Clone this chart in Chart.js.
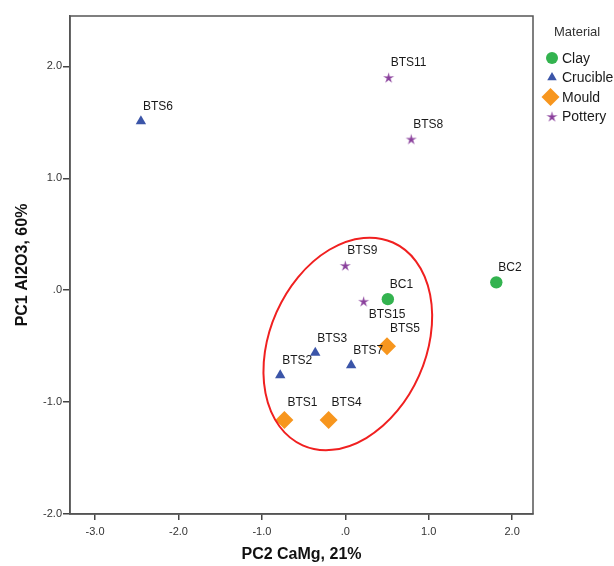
<!DOCTYPE html>
<html>
<head>
<meta charset="utf-8">
<script src="https://cdn.jsdelivr.net/npm/chart.js@4.4.1/dist/chart.umd.min.js"></script>
<style>
  body { margin: 0; background: #fff; }
  #wrap { width: 614px; height: 566px; }
</style>
</head>
<body>
<div id="wrap"><canvas id="myChart" width="614" height="566"></canvas></div>
<script>
// scores (PC2 on x, PC1 on y)
var clayNames = ['BC1', 'BC2'];
var clayX = [0.51, 1.81];
var clayY = [-0.08, 0.07];

var crucibleNames = ['BTS2', 'BTS3', 'BTS6', 'BTS7'];
var crucibleX = [-0.78, -0.36, -2.45, 0.07];
var crucibleY = [-0.76, -0.56, 1.51, -0.67];

var mouldNames = ['BTS1', 'BTS4', 'BTS5'];
var mouldX = [-0.73, -0.20, 0.50];
var mouldY = [-1.16, -1.16, -0.50];

var potteryNames = ['BTS8', 'BTS9', 'BTS11', 'BTS15'];
var potteryX = [0.79, 0.00, 0.52, 0.22];
var potteryY = [1.35, 0.22, 1.90, -0.10];

var xTicks = [-3, -2, -1, 0, 1, 2];
var xTickLabels = ['-3.0', '-2.0', '-1.0', '.0', '1.0', '2.0'];
var yTicks = [-2, -1, 0, 1, 2];
var yTickLabels = ['-2.0', '-1.0', '.0', '1.0', '2.0'];

var labelsBelow = ['BTS15'];

var FONT = "Arial, 'Liberation Sans', sans-serif";

function pts(xs, ys) {
  var out = [];
  for (var i = 0; i < xs.length; ++i) out.push({ x: xs[i], y: ys[i] });
  return out;
}

// thin filled 5 point star for the pottery points
function makeStar(color) {
  var c = document.createElement('canvas');
  c.width = 13; c.height = 13;
  var g = c.getContext('2d');
  g.fillStyle = color;
  g.beginPath();
  for (var i = 0; i < 10; ++i) {
    var r = (i % 2 == 0) ? 5.8 : 1.9;
    var a = -Math.PI / 2 + i * Math.PI / 5;
    var px = 6.5 + r * Math.cos(a), py = 7 + r * Math.sin(a);
    if (i == 0) g.moveTo(px, py); else g.lineTo(px, py);
  }
  g.closePath();
  g.fill();
  return c;
}
var starImg = makeStar('#8a409c');

var datasets = [
  { label: 'Clay', names: clayNames, data: pts(clayX, clayY), pointStyle: 'circle',
    backgroundColor: '#33b34f', borderColor: '#33b34f', pointRadius: 6.2, borderWidth: 0 },
  { label: 'Crucible', names: crucibleNames, data: pts(crucibleX, crucibleY), pointStyle: 'triangle',
    backgroundColor: '#3b55a8', borderColor: '#3b55a8', pointRadius: 6, borderWidth: 0 },
  { label: 'Mould', names: mouldNames, data: pts(mouldX, mouldY), pointStyle: 'rectRot',
    backgroundColor: '#f7961e', borderColor: '#f7961e', pointRadius: 9, borderWidth: 0 },
  { label: 'Pottery', names: potteryNames, data: pts(potteryX, potteryY), pointStyle: starImg,
    backgroundColor: '#8a409c', borderColor: '#8a409c', pointRadius: 6, borderWidth: 0 }
];

// frame, red ellipse, point names and the legend
var extras = {
  id: 'extras',
  afterDatasetsDraw: function (chart) {
    var ctx = chart.ctx;
    var area = chart.chartArea;
    var xs = chart.scales.x, ys = chart.scales.y;

    ctx.save();
    ctx.strokeStyle = '#555';
    ctx.lineWidth = 1.5;
    ctx.strokeRect(area.left, area.top, area.right - area.left, area.bottom - area.top);

    // ellipse around the main group
    ctx.strokeStyle = '#f02020';
    ctx.lineWidth = 2;
    ctx.beginPath();
    ctx.ellipse(xs.getPixelForValue(0.03), ys.getPixelForValue(-0.48), 78, 111, 24 * Math.PI / 180, 0, 2 * Math.PI);
    ctx.stroke();

    ctx.font = '12px ' + FONT;
    ctx.fillStyle = '#1a1a1a';
    ctx.textAlign = 'left';
    ctx.textBaseline = 'middle';
    chart.data.datasets.forEach(function (ds, di) {
      var meta = chart.getDatasetMeta(di);
      meta.data.forEach(function (el, i) {
        var name = ds.names[i];
        var r = ds.pointRadius;
        if (labelsBelow.indexOf(name) >= 0) {
          ctx.fillText(name, el.x + 5, el.y + 13);
        } else {
          ctx.fillText(name, el.x + (r > 8 ? 3 : 2), el.y - r - 8.5);
        }
      });
    });

    // legend
    var lx = area.right + 19;
    ctx.fillStyle = '#333';
    ctx.font = '13px ' + FONT;
    ctx.fillText('Material', lx + 2, 32);
    ctx.font = '14px ' + FONT;
    var radii = [6, 5.5, 9, 6.5];
    chart.data.datasets.forEach(function (ds, di) {
      var y = 58 + di * 19.5;
      ctx.fillStyle = ds.backgroundColor;
      ctx.strokeStyle = ds.backgroundColor;
      Chart.helpers.drawPoint(ctx, {
        pointStyle: ds.pointStyle, radius: radii[di], rotation: 0, borderWidth: 0
      }, di == 2 ? lx - 1.5 : lx, y);
      ctx.fillStyle = '#1a1a1a';
      ctx.fillText(ds.label, lx + 10, y + 1);
    });
    ctx.restore();
  }
};

var ctx = document.getElementById('myChart');
var myChart = new Chart(ctx, {
  type: 'scatter',
  data: { datasets: datasets },
  plugins: [extras],
  options: {
    responsive: false,
    animation: false,
    devicePixelRatio: 1,
    layout: { padding: { top: 16, right: 81, left: 0, bottom: 0 } },
    plugins: { legend: { display: false }, tooltip: { enabled: false } },
    scales: {
      x: {
        type: 'linear', min: -3.3, max: 2.25,
        afterBuildTicks: function (scale) {
          scale.ticks = xTicks.map(function (v) { return { value: v }; });
        },
        afterFit: function (scale) { scale.height = 52; },
        ticks: {
          color: '#333', font: { size: 11, family: FONT }, padding: 5, maxRotation: 0,
          callback: function (v) { return xTickLabels[xTicks.indexOf(v)]; }
        },
        grid: { drawOnChartArea: false, drawTicks: true, tickLength: 6, color: '#444', lineWidth: 1.5 },
        border: { display: true, color: '#555', width: 1.5 },
        title: { display: true, text: 'PC2 CaMg, 21%', color: '#111',
          font: { size: 16, weight: 'bold', family: FONT }, padding: { top: 0, bottom: 2 } }
      },
      y: {
        type: 'linear', min: -2, max: 2.45,
        afterBuildTicks: function (scale) {
          scale.ticks = yTicks.map(function (v) { return { value: v }; });
        },
        afterFit: function (scale) { scale.width = 70; },
        ticks: {
          color: '#333', font: { size: 11, family: FONT }, padding: 1,
          callback: function (v) { return yTickLabels[yTicks.indexOf(v)]; }
        },
        grid: { drawOnChartArea: false, drawTicks: true, tickLength: 7, color: '#444', lineWidth: 1.5 },
        border: { display: true, color: '#555', width: 1.5 },
        title: { display: true, text: 'PC1 Al2O3, 60%', color: '#111',
          font: { size: 16, weight: 'bold', family: FONT }, padding: { top: 13, bottom: 0 } }
      }
    }
  }
});
</script>
</body>
</html>
